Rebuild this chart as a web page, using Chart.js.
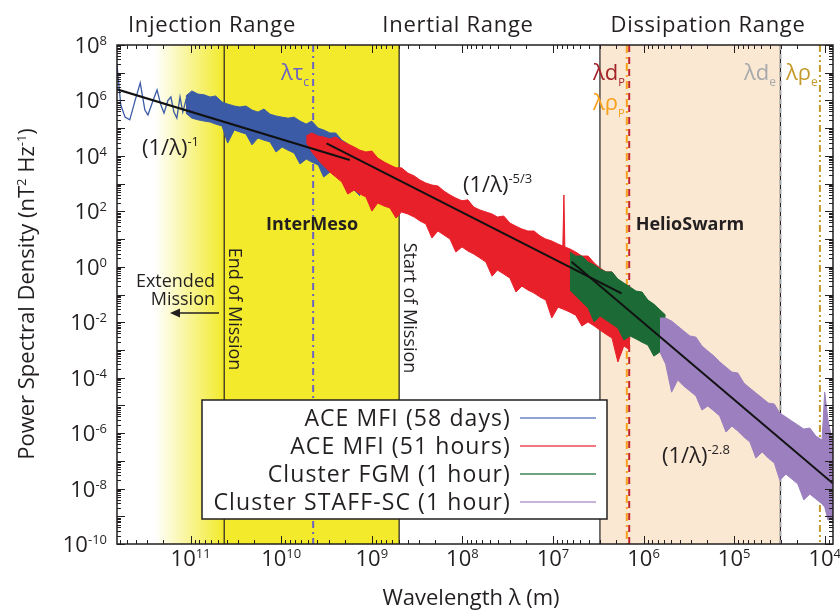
<!DOCTYPE html>
<html>
<head>
<meta charset="utf-8">
<script src="https://cdn.jsdelivr.net/npm/chart.js@4.4.1/dist/chart.umd.min.js"></script>
<style>
  html, body { margin: 0; padding: 0; background: #fff; }
  #wrap { width: 840px; height: 615px; position: relative; }
</style>
</head>
<body>
<div id="wrap"><canvas id="psd"></canvas></div>
<script>
// wavelength in m, power spectral density in nT^2 Hz^-1
const seriesNames = ["ACE MFI (58 days)", "ACE MFI (51 hours)", "Cluster FGM (1 hour)", "Cluster STAFF-SC (1 hour)"];
const seriesColors = ["#3b5ba7", "#e8202a", "#1c6a35", "#9b7fbf"];
const legendColors = ["#6884c4", "#ee4b52", "#3f8658", "#b49bd1"];

const xRange = [8.1e3, 6.5e11];
const yRange = [1e-10, 1e8];
const xTickExps = [11, 10, 9, 8, 7, 6, 5, 4];
const yTickExps = [8, 6, 4, 2, 0, -2, -4, -6, -8, -10];

// ACE 58 days, long-wavelength end (single wiggles)
const aceLongLam = [6.5e11, 5.9e11, 5.3e11, 4.7e11, 4.1e11, 3.6e11, 3.2e11, 2.96e11, 2.6e11, 2.35e11,
  2.13e11, 1.97e11, 1.78e11, 1.65e11, 1.53e11, 1.42e11, 1.31e11, 1.22e11, 1.13e11, 1.04e11];
const aceLongPsd = [1.9e7, 6.8e5, 2.5e5, 2.0e5, 1.0e6, 4.3e6, 4.5e5, 3.0e5, 1.0e6, 2.4e6,
  6.8e5, 3.5e5, 1.0e6, 1.33e6, 3.8e5, 2.3e5, 1.33e6, 3.8e5, 1.0e6, 3.2e5];

// ACE 58 days, dense part: top and bottom edge of the trace
const aceLam = [1.13e11, 9.7e10, 8.3e10, 7.1e10, 6.1e10, 5.3e10, 4.5e10, 3.9e10, 3.3e10, 2.86e10,
  2.45e10, 2.1e10, 1.81e10, 1.55e10, 1.33e10, 1.14e10, 9.8e9, 8.4e9, 7.2e9, 6.2e9,
  5.3e9, 4.6e9, 3.9e9, 3.4e9, 2.9e9, 2.5e9, 2.14e9, 1.84e9, 1.57e9, 1.35e9];
const aceHi = [1.45e6, 2.2e6, 1.7e6, 1.6e6, 1.33e6, 1.45e6, 8.8e5, 7.4e5, 6.3e5, 5.8e5,
  6.3e5, 4.5e5, 3.8e5, 4.9e5, 3.2e5, 2.75e5, 2.5e5, 2.3e5, 2.5e5, 1.8e5,
  1.4e5, 1.8e5, 1.0e5, 8.6e4, 6.7e4, 6.7e4, 3.7e4, 2.7e4, 1.6e4, 8.4e3];
const aceLo = [3.5e5, 2.3e5, 2.0e5, 1.8e5, 1.67e5, 1.4e5, 1.2e5, 2.9e4, 8.6e4, 7.3e4,
  6.2e4, 2.5e4, 4.4e4, 3.7e4, 3.2e4, 1.38e4, 2.1e4, 1.6e4, 1.27e4, 5.1e3,
  7.7e3, 6.0e3, 4.7e3, 1.73e3, 2.6e3, 1.9e3, 1.35e3, 460, 590, 360];

// ACE 51 hours
const ace51Lam = [5.3e9, 4.6e9, 3.9e9, 3.4e9, 2.9e9, 2.5e9, 2.14e9, 1.84e9, 1.57e9, 1.35e9,
  1.16e9, 9.98e8, 8.6e8, 7.3e8, 6.3e8, 5.4e8, 4.7e8, 4.0e8, 3.4e8, 2.94e8,
  2.53e8, 2.17e8, 1.86e8, 1.60e8, 1.37e8, 1.18e8, 1.01e8, 8.7e7, 7.5e7, 6.4e7,
  5.5e7, 4.7e7, 4.1e7, 3.5e7, 2.99e7, 2.56e7, 2.2e7, 1.89e7, 1.62e7, 1.39e7,
  1.20e7, 1.03e7, 8.8e6, 7.78e6, 7.57e6, 7.39e6, 6.5e6, 5.6e6, 4.8e6, 4.1e6,
  3.5e6, 3.03e6, 2.6e6, 2.23e6, 1.92e6, 1.65e6, 1.41e6];
const ace51Hi = [5.2e4, 6.7e4, 5.2e4, 4.8e4, 4.1e4, 4.8e4, 3.4e4, 2.7e4, 2.1e4, 1.6e4,
  1.38e4, 1.5e4, 8.4e3, 6.0e3, 4.7e3, 3.7e3, 3.7e3, 2.4e3, 1.9e3, 1.35e3,
  1.05e3, 890, 820, 540, 390, 300, 240, 260, 143, 112,
  95, 80, 62, 68, 38, 29, 23, 19.5, 19.5, 13,
  10, 8.5, 6.6, 5.6, 390, 5.2, 4.4, 3.4, 2.44, 2.44,
  1.37, 0.90, 0.65, 0.65, 0.33, 0.22, 0.145];
const ace51Lo = [3.2e4, 1.38e4, 7.1e3, 4.3e3, 2.6e3, 1.73e3, 1.14e3, 420, 590, 420,
  330, 102, 200, 155, 132, 57, 95, 80, 62, 45,
  35, 10.9, 19.5, 14, 10, 3.4, 5.2, 3.7, 2.9, 2.07,
  1.48, 0.46, 0.76, 0.55, 0.39, 0.123, 0.20, 0.145, 0.113, 0.081,
  0.063, 0.0142, 0.035, 0.030, 0.028, 0.028, 0.023, 0.018, 0.0073, 0.0102,
  0.0073, 0.0052, 0.0037, 0.0027, 3.7e-4, 0.0014, 9.9e-4];

// Cluster FGM
const fgmLam = [6.5e6, 5.6e6, 4.8e6, 4.1e6, 3.5e6, 3.03e6, 2.6e6, 2.23e6, 1.92e6, 1.65e6,
  1.41e6, 1.21e6, 1.04e6, 8.95e5, 7.7e5, 6.6e5, 5.7e5];
const fgmHi = [3.4, 2.44, 2.44, 1.48, 1.16, 0.83, 0.65, 0.65, 0.36, 0.26,
  0.186, 0.133, 0.123, 0.063, 0.045, 0.028, 0.018];
const fgmLo = [0.145, 0.088, 0.054, 0.033, 0.0102, 0.017, 0.012, 0.0086, 0.0062, 0.0023,
  0.0032, 0.0025, 0.0019, 0.0015, 6.0e-4, 8.4e-4, 0.0052];

// Cluster STAFF-SC
const staffLam = [6.6e5, 5.7e5, 4.9e5, 4.2e5, 3.6e5, 3.08e5, 2.64e5, 2.27e5, 1.95e5, 1.67e5,
  1.44e5, 1.23e5, 1.06e5, 9.1e4, 7.8e4, 6.7e4, 5.75e4, 4.9e4, 4.2e4, 3.6e4,
  3.13e4, 2.68e4, 2.3e4, 1.98e4, 1.70e4, 1.46e4, 1.25e4, 1.07e4, 1.0e4, 9.2e3, 8.1e3];
const staffHi = [0.0142, 0.0142, 0.011, 0.0073, 0.0048, 0.0032, 0.0029, 0.0014, 9.1e-4, 6.0e-4,
  3.7e-4, 2.4e-4, 1.6e-4, 1.47e-4, 6.4e-5, 4.2e-5, 2.8e-5, 1.84e-5, 1.22e-5, 1.12e-5,
  5.3e-6, 3.8e-6, 2.7e-6, 1.96e-6, 1.4e-6, 1.53e-6, 7.8e-7, 5.6e-7, 3.0e-5, 3.0e-6, 3.7e-7];
const staffLo = [8.4e-4, 3.1e-4, 3.0e-5, 8.2e-5, 5.0e-5, 3.3e-5, 2.2e-5, 6.8e-6, 9.5e-6, 6.3e-6,
  4.1e-6, 1.09e-6, 1.8e-6, 1.19e-6, 7.2e-7, 4.8e-7, 1.26e-7, 2.1e-7, 1.26e-7, 8.3e-8,
  2.0e-8, 3.3e-8, 2.2e-8, 1.46e-8, 3.9e-9, 6.3e-9, 4.2e-9, 2.8e-9, 2.15e-9, 7.3e-10, 8.6e-10];

// power-law fits (end points)
const fitLam = [[6.51e11, 1.75e9], [3.16e9, 1.75e6], [6.24e6, 8.15e3]];
const fitPsd = [[2.52e6, 7.1e3], [2.84e4, 0.110], [1.52, 1.54e-8]];
const fitExps = ["-1", "-5/3", "-2.8"];

// shaded ranges
const fadeLam = [2.48e11, 4.26e10];
const interMesoLam = [4.26e10, 4.99e8];
const helioSwarmLam = [3.03e6, 3.08e4];

// characteristic scales
const markerLam = [4.44e9, 1.53e6, 1.44e6, 3.08e4, 1.13e4];
const markerColors = ["#6b62c3", "#f6a01c", "#c1272d", "#a7a9ac", "#c49a2c"];
const markerDash = [[7, 4, 2, 4], [8, 4, 2, 4], [7, 5], [5, 4], [7, 3, 2, 3, 2, 3]];

const INK = "#231f20";
const FONT = "'Open Sans', 'Noto Sans', sans-serif";

const pts = (xs, ys) => xs.map((x, i) => ({x: x, y: ys[i]}));

function band(lam, hi, lo, color, order) {
  return [
    {data: pts(lam, hi), borderColor: color, borderWidth: 1, fill: false, order: order},
    {data: pts(lam, lo), borderColor: color, borderWidth: 1, fill: "-1", backgroundColor: color, order: order}
  ];
}

const datasets = [
  {data: pts(aceLongLam, aceLongPsd), borderColor: seriesColors[0], borderWidth: 1.3, fill: false, order: 5},
  ...band(aceLam, aceHi, aceLo, seriesColors[0], 5),
  ...band(ace51Lam, ace51Hi, ace51Lo, seriesColors[1], 4),
  ...band(fgmLam, fgmHi, fgmLo, seriesColors[2], 3),
  ...band(staffLam, staffHi, staffLo, seriesColors[3], 2),
  ...fitLam.map((l, i) => ({data: pts(l, fitPsd[i]), borderColor: "#111", borderWidth: 2, fill: false, order: 1}))
];

// text made of pieces: [text, size, raise, weight, color]
function rich(ctx, parts, x, y, align) {
  let w = 0;
  parts.forEach(p => { ctx.font = (p[3] || "normal") + " " + p[1] + "px " + FONT; w += ctx.measureText(p[0]).width; });
  let cx = align === "center" ? x - w / 2 : align === "right" ? x - w : x;
  ctx.textAlign = "left";
  parts.forEach(p => {
    ctx.font = (p[3] || "normal") + " " + p[1] + "px " + FONT;
    ctx.fillStyle = p[4] || INK;
    ctx.fillText(p[0], cx, y - (p[2] || 0));
    cx += ctx.measureText(p[0]).width;
  });
}

function logMarks(min, max) {
  const out = [];
  for (let e = Math.floor(Math.log10(min)); e <= Math.ceil(Math.log10(max)); e++) {
    for (let m = 1; m <= 9; m++) {
      const v = m * Math.pow(10, e);
      if (v >= min * 0.9999 && v <= max * 1.0001) out.push({v: v, major: m === 1});
    }
  }
  return out;
}

const backdrop = {
  id: "backdrop",
  beforeDatasetsDraw(chart) {
    const {ctx, chartArea: a, scales: {x}} = chart;
    const H = a.bottom - a.top;
    ctx.save();
    const f0 = x.getPixelForValue(fadeLam[0]), f1 = x.getPixelForValue(fadeLam[1]);
    const g = ctx.createLinearGradient(f0, 0, f1, 0);
    g.addColorStop(0, "rgba(242,234,42,0)");
    g.addColorStop(1, "rgba(242,234,42,1)");
    ctx.fillStyle = g;
    ctx.fillRect(f0, a.top, f1 - f0, H);
    const y0 = x.getPixelForValue(interMesoLam[0]), y1 = x.getPixelForValue(interMesoLam[1]);
    ctx.fillStyle = "#f2ea2a";
    ctx.fillRect(y0, a.top, y1 - y0, H);
    const h0 = x.getPixelForValue(helioSwarmLam[0]), h1 = x.getPixelForValue(helioSwarmLam[1]);
    ctx.fillStyle = "#fae8d2";
    ctx.fillRect(h0, a.top, h1 - h0, H);

    ctx.strokeStyle = INK;
    ctx.lineWidth = 1.2;
    [y0, y1, h0, h1].forEach(px => {
      ctx.beginPath(); ctx.moveTo(px, a.top); ctx.lineTo(px, a.bottom); ctx.stroke();
    });

    markerLam.forEach((l, i) => {
      const px = x.getPixelForValue(l);
      ctx.strokeStyle = markerColors[i];
      ctx.lineWidth = 2;
      ctx.setLineDash(markerDash[i]);
      ctx.beginPath(); ctx.moveTo(px, a.top); ctx.lineTo(px, a.bottom); ctx.stroke();
    });
    ctx.restore();
  }
};

const overlay = {
  id: "overlay",
  afterDatasetsDraw(chart) {
    const {ctx, chartArea: a, scales: {x, y}} = chart;
    ctx.save();
    ctx.textBaseline = "alphabetic";

    // ticks on all four sides, pointing in
    ctx.strokeStyle = INK;
    ctx.lineWidth = 1;
    logMarks(xRange[0], xRange[1]).forEach(t => {
      const px = Math.round(x.getPixelForValue(t.v)) + 0.5, len = t.major ? 8 : 4;
      ctx.beginPath();
      ctx.moveTo(px, a.bottom); ctx.lineTo(px, a.bottom - len);
      ctx.moveTo(px, a.top); ctx.lineTo(px, a.top + len);
      ctx.stroke();
    });
    logMarks(yRange[0], yRange[1]).forEach(t => {
      const py = Math.round(y.getPixelForValue(t.v)) + 0.5, len = t.major ? 8 : 4;
      ctx.beginPath();
      ctx.moveTo(a.left, py); ctx.lineTo(a.left + len, py);
      ctx.moveTo(a.right, py); ctx.lineTo(a.right - len, py);
      ctx.stroke();
    });
    ctx.lineWidth = 1.5;
    ctx.strokeRect(a.left, a.top, a.right - a.left, a.bottom - a.top);

    // tick labels
    xTickExps.forEach(e => {
      rich(ctx, [["10", 22], [String(e), 13, 8]], x.getPixelForValue(Math.pow(10, e)), 566, "center");
    });
    yTickExps.forEach(e => {
      const py = y.getPixelForValue(Math.pow(10, e));
      rich(ctx, [["10", 22], [String(e), 13, 8]], 107, py + 8, "right");
    });

    // axis titles
    rich(ctx, [["Wavelength λ (m)", 22]], 471, 605, "center");
    ctx.save();
    ctx.translate(34, 294);
    ctx.rotate(-Math.PI / 2);
    rich(ctx, [["Power Spectral Density (nT", 22], ["2", 13, 8], [" Hz", 22], ["-1", 13, 8], [")", 22]], 0, 0, "center");
    ctx.restore();

    // range names
    ctx.letterSpacing = "0.7px";
    rich(ctx, [["Injection Range", 22]], 212, 32, "center");
    rich(ctx, [["Inertial Range", 22]], 458, 32, "center");
    rich(ctx, [["Dissipation Range", 22]], 708, 32, "center");
    ctx.letterSpacing = "0px";

    // power-law labels
    rich(ctx, [["(1/λ)", 22], [fitExps[0], 13, 9]], 142, 155, "left");
    rich(ctx, [["(1/λ)", 22], [fitExps[1], 13, 9]], 463, 192, "left");
    rich(ctx, [["(1/λ)", 22], [fitExps[2], 13, 9]], 662, 463, "left");

    // missions
    rich(ctx, [["InterMeso", 18, 0, "bold"]], 312, 230, "center");
    rich(ctx, [["HelioSwarm", 18, 0, "bold"]], 690, 230, "center");
    ctx.save();
    ctx.translate(229, 309); ctx.rotate(Math.PI / 2);
    rich(ctx, [["End of Mission", 18]], 0, 0, "center");
    ctx.restore();
    ctx.save();
    ctx.translate(404, 308); ctx.rotate(Math.PI / 2);
    rich(ctx, [["Start of Mission", 18]], 0, 0, "center");
    ctx.restore();
    rich(ctx, [["Extended", 18]], 215, 287, "right");
    rich(ctx, [["Mission", 18]], 215, 305, "right");
    ctx.strokeStyle = INK; ctx.fillStyle = INK; ctx.lineWidth = 1.5;
    ctx.beginPath(); ctx.moveTo(219, 313); ctx.lineTo(176, 313); ctx.stroke();
    ctx.beginPath(); ctx.moveTo(170, 313); ctx.lineTo(180, 308.5); ctx.lineTo(180, 317.5); ctx.closePath(); ctx.fill();

    // scale labels
    rich(ctx, [["λτ", 22, 0, "normal", markerColors[0]], ["c", 12, -6, "normal", markerColors[0]]], 281, 80, "left");
    rich(ctx, [["λd", 22, 0, "normal", "#a3232a"], ["P", 11, -6, "normal", "#a3232a"]], 593, 80, "left");
    rich(ctx, [["λρ", 22, 0, "normal", markerColors[1]], ["P", 11, -7, "normal", markerColors[1]]], 593, 110, "left");
    rich(ctx, [["λd", 22, 0, "normal", markerColors[3]], ["e", 12, -6, "normal", markerColors[3]]], 744, 80, "left");
    rich(ctx, [["λρ", 22, 0, "normal", markerColors[4]], ["e", 12, -6, "normal", markerColors[4]]], 786, 80, "left");

    // legend
    ctx.fillStyle = "#fff";
    ctx.fillRect(202, 400, 405, 119);
    ctx.strokeStyle = INK; ctx.lineWidth = 1.5;
    ctx.strokeRect(202, 400, 405, 119);
    const rows = [418, 446, 474, 502];
    ctx.letterSpacing = "1.1px";
    seriesNames.forEach((n, i) => {
      rich(ctx, [[n, 23]], 511, rows[i] + 8, "right");
      ctx.strokeStyle = legendColors[i]; ctx.lineWidth = 1.5;
      ctx.beginPath(); ctx.moveTo(520, rows[i]); ctx.lineTo(596, rows[i]); ctx.stroke();
    });
    ctx.letterSpacing = "0px";
    ctx.restore();
  }
};

new Chart(document.getElementById("psd"), {
  type: "line",
  data: {datasets: datasets},
  options: {
    responsive: true,
    maintainAspectRatio: false,
    animation: false,
    layout: {padding: {left: 117, right: 7, top: 45, bottom: 71}},
    elements: {point: {radius: 0}, line: {tension: 0}},
    plugins: {legend: {display: false}, tooltip: {enabled: false}},
    scales: {
      x: {type: "logarithmic", reverse: true, min: xRange[0], max: xRange[1], bounds: "data", display: false},
      y: {type: "logarithmic", min: yRange[0], max: yRange[1], bounds: "data", display: false}
    }
  },
  plugins: [backdrop, overlay]
});
</script>
</body>
</html>
